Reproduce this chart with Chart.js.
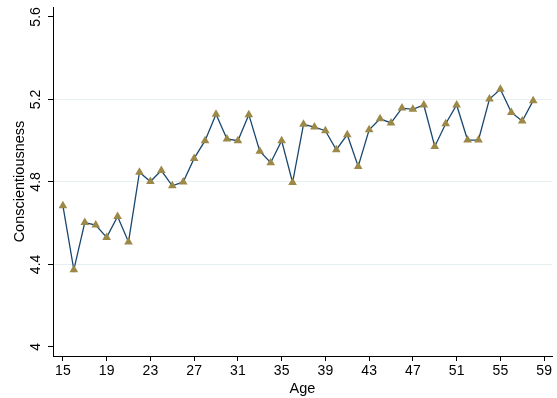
<!DOCTYPE html>
<html>
<head>
<meta charset="utf-8">
<script src="https://cdn.jsdelivr.net/npm/chart.js@4"></script>
<style>
  html, body { margin: 0; padding: 0; background: #fff; }
  #wrap { width: 557px; height: 398px; }
</style>
</head>
<body>
<div id="wrap"><canvas id="grafico"></canvas></div>
<script>
const ages = [15, 16, 17, 18, 19, 20, 21, 22, 23, 24, 25, 26, 27, 28, 29, 30, 31, 32, 33, 34, 35, 36,
              37, 38, 39, 40, 41, 42, 43, 44, 45, 46, 47, 48, 49, 50, 51, 52, 53, 54, 55, 56, 57, 58];
const conscientiousness = [4.685, 4.374, 4.603, 4.591, 4.531, 4.632, 4.509, 4.847, 4.802, 4.855, 4.781,
                           4.800, 4.914, 5.000, 5.128, 5.008, 5.000, 5.126, 4.949, 4.893, 5.000, 4.797,
                           5.079, 5.066, 5.048, 4.956, 5.029, 4.875, 5.053, 5.106, 5.086, 5.158, 5.152,
                           5.173, 4.972, 5.082, 5.173, 5.003, 5.003, 5.202, 5.249, 5.137, 5.095, 5.194];
const xTicks = [15, 19, 23, 27, 31, 35, 39, 43, 47, 51, 55, 59];
const yTicks = [4, 4.4, 4.8, 5.2, 5.6];

const FONT = '"Liberation Sans", Arial, sans-serif';

// y labels are vertical in the original, so draw them by hand
const yLabels = {
    id: 'yLabels',
    afterDraw(chart) {
        const c = chart.ctx;
        const y = chart.scales.y;
        c.save();
        c.fillStyle = '#000';
        c.font = '14px ' + FONT;
        c.textAlign = 'center';
        c.textBaseline = 'middle';
        yTicks.forEach(v => {
            c.save();
            c.translate(36, y.getPixelForValue(v));
            c.rotate(-Math.PI / 2);
            c.fillText(String(v), 0, 0);
            c.restore();
        });
        c.font = '14.5px ' + FONT;
        c.translate(20, (chart.chartArea.top + chart.chartArea.bottom) / 2);
        c.rotate(-Math.PI / 2);
        c.fillText('Conscientiousness', 0, 0);
        c.restore();
    }
};

new Chart(document.getElementById('grafico'), {
    type: 'line',
    data: {
        datasets: [{
            data: ages.map((a, i) => ({ x: a, y: conscientiousness[i] })),
            borderColor: '#1a476f',
            borderWidth: 1.3,
            pointStyle: 'triangle',
            pointRadius: 5,
            pointBackgroundColor: '#9c8847',
            pointBorderColor: '#9c8847',
            pointBorderWidth: 0,
            tension: 0
        }]
    },
    options: {
        responsive: true,
        maintainAspectRatio: false,
        animation: false,
        layout: { padding: { top: 7, left: 0, right: 0, bottom: 0 } },
        plugins: { legend: { display: false }, tooltip: { enabled: false } },
        scales: {
            x: {
                type: 'linear',
                min: 14.095,
                max: 59.72,
                afterBuildTicks: s => { s.ticks = xTicks.map(v => ({ value: v })); },
                afterFit: s => { s.height = 42; },
                grid: { drawOnChartArea: false, tickLength: 5, tickColor: '#000' },
                border: { color: '#000', width: 1 },
                ticks: { color: '#000', font: { family: FONT, size: 14 }, padding: 2, maxRotation: 0, autoSkip: false },
                title: { display: true, text: 'Age', color: '#000', font: { family: FONT, size: 14.5 }, padding: { top: 0, bottom: 0 } }
            },
            y: {
                min: 3.956,
                max: 5.648,
                afterBuildTicks: s => { s.ticks = yTicks.map(v => ({ value: v })); },
                afterFit: s => { s.width = 53; },
                grid: {
                    color: ctx => (ctx.tick && (ctx.tick.value === 4 || ctx.tick.value === 5.6)) ? 'rgba(0,0,0,0)' : '#e6eff1',
                    tickLength: 5,
                    tickColor: '#000'
                },
                border: { color: '#000', width: 1 },
                ticks: { display: false }
            }
        }
    },
    plugins: [yLabels]
});
</script>
</body>
</html>
